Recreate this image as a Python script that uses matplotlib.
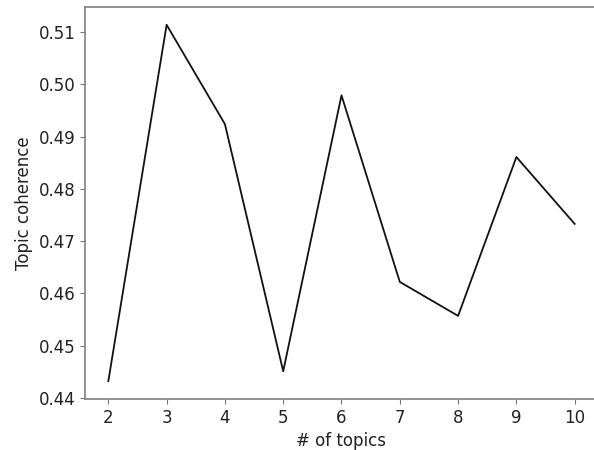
import matplotlib
matplotlib.use("Agg")
import matplotlib.pyplot as plt

plt.rcParams['font.family'] = ['DejaVu Sans']

num_topics = [2, 3, 4, 5, 6, 7, 8, 9, 10]
coherence = [0.4432, 0.5114, 0.4924, 0.4451, 0.4979, 0.4622, 0.4557, 0.4861, 0.4733]
y_ticks = [0.44, 0.45, 0.46, 0.47, 0.48, 0.49, 0.50, 0.51]
y_tick_labels = ["0.44", "0.45", "0.46", "0.47", "0.48", "0.49", "0.50", "0.51"]
x_tick_labels = ["2", "3", "4", "5", "6", "7", "8", "9", "10"]

fig = plt.figure(figsize=(5.94, 4.5), dpi=100)
ax = fig.add_axes([85/594, 51/450, (598-85)/594, (399.5-7.5)/450])
ax.plot(num_topics, coherence, color="#111111", linewidth=1.3)
ax.set_xlabel("# of topics", fontsize=12, color="#222222")
ax.set_ylabel("Topic coherence", fontsize=12, color="#222222")
ax.set_yticks(y_ticks)
ax.set_yticklabels(y_tick_labels)
ax.set_xticks(num_topics)
ax.set_xticklabels(x_tick_labels)
ax.tick_params(labelsize=12, colors="#777777", labelcolor="#222222")
for s in ax.spines.values():
    s.set_color("#808080")
    s.set_linewidth(1.2)
ax.spines['right'].set_visible(False)
fig.savefig("out.png", dpi=100)
